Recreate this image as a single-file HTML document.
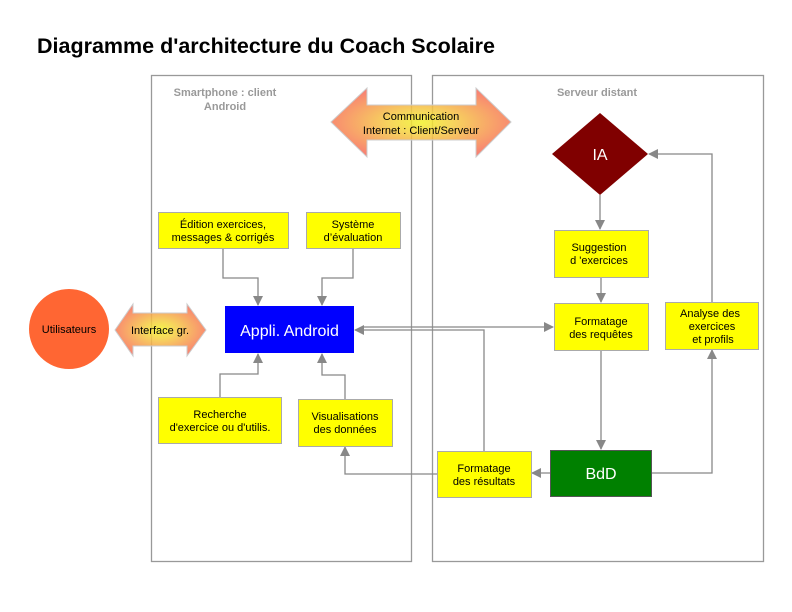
<!DOCTYPE html>
<html><head><meta charset="utf-8"><style>
body{margin:0;background:#fff;}
svg{display:block;font-family:"Liberation Sans",Arial,sans-serif;}
</style></head><body>
<svg width="792" height="612" viewBox="0 0 792 612" xmlns="http://www.w3.org/2000/svg">
<defs>
<radialGradient id="g" cx="50%" cy="50%" r="55%">
<stop offset="0" stop-color="#f2f22a"/><stop offset="0.3" stop-color="#f5d040"/><stop offset="1" stop-color="#f76a5a"/>
</radialGradient>
<marker id="a" markerWidth="10" markerHeight="10" refX="9" refY="5" orient="auto" markerUnits="userSpaceOnUse">
<path d="M0,0 L10,5 L0,10 z" fill="#888"/></marker>
</defs>
<text x="37" y="53" font-size="21.5" font-weight="bold">Diagramme d'architecture du Coach Scolaire</text>
<rect x="151.5" y="75.5" width="260" height="486" fill="none" stroke="#999" stroke-width="1.3"/>
<rect x="432.5" y="75.5" width="331" height="486" fill="none" stroke="#999" stroke-width="1.3"/>
<text x="225" y="96" font-size="11" font-weight="bold" fill="#999" text-anchor="middle">Smartphone : client</text>
<text x="225" y="110" font-size="11" font-weight="bold" fill="#999" text-anchor="middle">Android</text>
<text x="597" y="96" font-size="11" font-weight="bold" fill="#999" text-anchor="middle">Serveur distant</text>
<path d="M331,122 L367,88 L367,105 L476,105 L476,88 L511,122 L476,157 L476,140 L367,140 L367,157 Z" fill="url(#g)" fill-opacity="0.85" stroke="#ccc"/>
<text x="421" y="120" font-size="11" text-anchor="middle">Communication</text>
<text x="421" y="134" font-size="11" text-anchor="middle">Internet : Client/Serveur</text>
<g fill="none" stroke="#888" stroke-width="1.3">
<path d="M223,248 V278 H258 V305" marker-end="url(#a)"/>
<path d="M353,248 V278 H322 V305" marker-end="url(#a)"/>
<path d="M220,397 V374 H258 V354" marker-end="url(#a)"/>
<path d="M345,399 V375 H322 V354" marker-end="url(#a)"/>
<path d="M364,327 H553" marker-end="url(#a)"/>
<path d="M484,451 V330 H355" marker-end="url(#a)"/>
<path d="M437,474 H345 V447" marker-end="url(#a)"/>
<path d="M550,473 H532" marker-end="url(#a)"/>
<path d="M601,350 V449" marker-end="url(#a)"/>
<path d="M651,473 H712 V350" marker-end="url(#a)"/>
<path d="M712,302 V154 H649" marker-end="url(#a)"/>
<path d="M600,195 V229" marker-end="url(#a)"/>
<path d="M601,277 V302" marker-end="url(#a)"/>
</g>
<circle cx="69" cy="329" r="40" fill="#ff6633"/>
<text x="69" y="333" font-size="11" text-anchor="middle">Utilisateurs</text>
<path d="M115,330 L133,304 L133,313 L187,313 L187,304 L206,330 L187,356 L187,346 L133,346 L133,356 Z" fill="url(#g)" fill-opacity="0.85" stroke="#ccc"/>
<text x="160" y="334" font-size="11" text-anchor="middle">Interface gr.</text>
<g stroke="#aaa" stroke-width="1" fill="#ffff00">
<rect x="158.5" y="212.5" width="130" height="36"/>
<rect x="306.5" y="212.5" width="94" height="36"/>
<rect x="158.5" y="397.5" width="123" height="46"/>
<rect x="298.5" y="399.5" width="94" height="47"/>
<rect x="554.5" y="230.5" width="94" height="47"/>
<rect x="554.5" y="303.5" width="94" height="47"/>
<rect x="665.5" y="302.5" width="93" height="47"/>
<rect x="437.5" y="451.5" width="94" height="46"/>
</g>
<rect x="225" y="306" width="129" height="47" fill="#0000ff"/>
<text x="289.5" y="336" font-size="16" fill="#fff" text-anchor="middle">Appli. Android</text>
<polygon points="600,113 648,154 600,195 552,154" fill="#800000"/>
<text x="600" y="160" font-size="16" fill="#fff" text-anchor="middle">IA</text>
<rect x="550.5" y="450.5" width="101" height="46" fill="#008000" stroke="#555"/>
<text x="601" y="479" font-size="16" fill="#fff" text-anchor="middle">BdD</text>
<g font-size="11" text-anchor="middle">
<text x="223" y="228">Édition exercices,</text><text x="223" y="241">messages &amp; corrigés</text>
<text x="353" y="228">Système</text><text x="353" y="241">d’évaluation</text>
<text x="220" y="418">Recherche</text><text x="220" y="431">d'exercice ou d'utilis.</text>
<text x="345" y="420">Visualisations</text><text x="345" y="433">des données</text>
<text x="599" y="251">Suggestion</text><text x="599" y="264">d 'exercices</text>
<text x="601" y="325">Formatage</text><text x="601" y="338">des requêtes</text>
<text x="710" y="317">Analyse des</text><text x="712" y="330">exercices</text><text x="713" y="343">et profils</text>
<text x="484" y="472">Formatage</text><text x="484" y="485">des résultats</text>
</g>
</svg>
</body></html>
